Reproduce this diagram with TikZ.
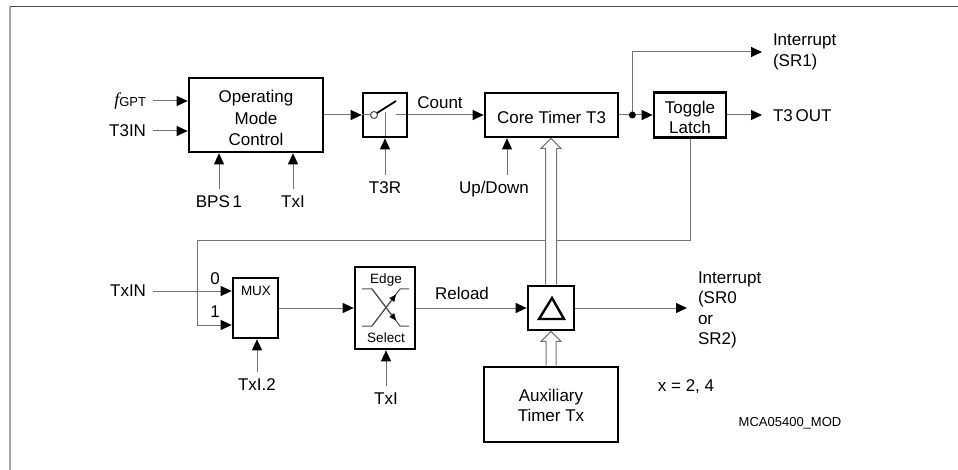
\documentclass[tikz,border=0pt]{standalone}
\usepackage{fontspec}
\setmainfont{Liberation Sans}
\newfontfamily\serifit{Liberation Serif}
\usetikzlibrary{arrows.meta,calc}
\pgfdeclarelayer{bg}
\pgfsetlayers{bg,main}
\begin{document}
\begin{tikzpicture}[x=1pt,y=-1pt,
  font=\fontsize{17}{21.5}\selectfont,
  blk/.style={draw=black, line width=2.7pt, rectangle, inner sep=0pt, align=center},
  btxt/.style={align=center, inner sep=0pt},
  conn/.style={draw=black!55, line width=1pt},
  arr/.style={-{Triangle[length=11pt,width=10pt,color=black]}},
  sarr/.style={-{Triangle[length=7pt,width=6pt,color=black]}},
  lbl/.style={inner sep=1pt, outer sep=6pt},
  rlbl/.style={inner sep=1pt, outer sep=10pt, align=left, font=\fontsize{17}{20.5}\selectfont},
  small/.style={font=\fontsize{13.5}{16}\selectfont, inner sep=0pt},
  hollow/.style={draw=black!55, line width=1pt, fill=white, line join=miter},
]
\useasboundingbox (0,0) rectangle (958,470);
% frame
\draw[black!35, line width=2pt] (10,7) -- (10,470);
\draw[black!70, line width=1pt] (10,7) -- (958,7);

% blocks
\node[blk, minimum width=134pt, minimum height=74pt] (omc) at (256,115) {};
\node[btxt] (omct) at ($(omc.center)+(0,3)$) {Operating\\Mode\\Control};
\node[blk, minimum width=44pt, minimum height=44pt] (sw) at (385,115) {};
\node[blk, minimum width=133pt, minimum height=44pt] (core) at (551.5,115) {};
\node[btxt] (coret) at ($(core.center)+(0,2)$) {Core Timer T3};
\node[blk, minimum width=72pt, minimum height=45pt] (tog) at (690,115) {};
\node[btxt, font=\fontsize{17}{20}\selectfont] (togt) at ($(tog.center)+(0,2)$) {Toggle\\Latch};
\node[blk, minimum width=45pt, minimum height=60pt] (mux) at (255.5,308) {};
\node[small] (muxt) at (256,291) {MUX};
\node[blk, minimum width=60pt, minimum height=82pt] (edge) at (385,308) {};
\node[small] (edt) at (386,280) {Edge};
\node[small] (selt) at (386,338) {Select};
\node[blk, minimum width=46pt, minimum height=44pt] (delta) at (551,308) {};
\node[blk, minimum width=134pt, minimum height=75pt] (aux) at (551,404.5) {};
\node[btxt, font=\fontsize{17}{19.5}\selectfont] (auxt) at ($(aux.center)+(0,1)$) {Auxiliary\\Timer Tx};

% delta triangle
\draw[black, line width=2.4pt, line join=miter] ($(delta.center)+(1,-10)$) -- ($(delta.center)+(-12,11)$) -- ($(delta.center)+(13,11)$) -- cycle;

% labels
\node[lbl, anchor=east] (fg) at (153,101) {{\serifit\itshape\fontsize{18}{20}\selectfont f}\raisebox{-1.5pt}{\fontsize{13}{15}\selectfont GPT}};
\node[lbl, anchor=east] (t3in) at (153,131) {T3IN};
\node[lbl, anchor=north] (bps) at (219,189) {BPS\,1};
\node[lbl, anchor=north] (txa) at (293,189) {TxI};
\node[lbl, anchor=north] (t3r) at (385,175) {T3R};
\coordinate (udc) at (507,175);
\node[lbl, anchor=north] (ud) at (494,174) {Up/Down};
\node (cnt) at (440,103) {Count};
\node[rlbl, anchor=west] (ir1) at (762,52) {Interrupt\\(SR1)};
\node[rlbl, anchor=west] (t3o) at (762,116) {T3\,OUT};
\node[rlbl, anchor=west] (ir0) at (687,310) {Interrupt\\(SR0\\or\\SR2)};
\node[lbl, anchor=east] (txin) at (153,291) {TxIN};
\node (l0) at (215,279) {0};
\node (l1) at (215,312) {1};
\node[lbl, anchor=north] (txi2) at (257,372) {TxI.2};
\node[lbl, anchor=north] (txb) at (386,386) {TxI};
\node (rel) at (462,293) {Reload};
\node (xeq) at (686,387) {x = 2, 4};
\node[font=\fontsize{13}{15}\selectfont] (mca) at (790,423) {MCA05400\_MOD};

\coordinate (fbl) at (197,241);
\coordinate (mux1) at ($(mux.west)+(0,17)$);
\coordinate (dotc) at ($(core.east)!0.39!(tog.west)$);

\begin{pgfonlayer}{bg}
% inputs to OMC
\draw[conn,arr] (fg.east) -- (fg.east -| omc.west);
\draw[conn,arr] (t3in.east) -- (t3in.east -| omc.west);
\draw[conn,arr] (bps.north) -- (bps.north |- omc.south);
\draw[conn,arr] (txa.north) -- (txa.north |- omc.south);
% OMC -> switch
\draw[conn,arr] (omc.east) -- (sw.west);
\draw[conn,arr] (t3r.north) -- (sw.south);
\draw[conn] (sw.south) -- ($(sw.center)+(0,-3)$);
\draw[conn,arr] ($(sw.center)+(11,0)$) -- (core.west);
\draw[conn,arr] (udc) -- (udc |- core.south);
% core -> toggle
\draw[conn,arr] (core.east) -- (tog.west);
\draw[conn,arr] (dotc) |- (ir1.west);
\draw[conn,arr] (tog.east) -- (tog.east -| t3o.west);
% feedback
\draw[conn,arr] (tog.south) -- (tog.south |- fbl) -- (fbl) -- (fbl |- mux1) -- (mux1);
\draw[conn,arr] (txin.east) -- (txin.east -| mux.west);
\draw[conn,arr] (mux.east) -- (edge.west);
\draw[conn,arr] (txi2.north) -- (txi2.north |- mux.south);
\draw[conn,arr] (txb.north) -- (txb.north |- edge.south);
\draw[conn,arr] (edge.east) -- (delta.west);
\draw[conn,arr] (delta.east) -- (delta.east -| ir0.west);
% hollow arrows
\draw[hollow] ($(delta.north)+(-5.5,0)$) -- ($(delta.north |- core.south)+(-5.5,10)$) -- ++(-4.5,0)
  -- (delta.north |- core.south) -- ($(delta.north |- core.south)+(10,10)$) -- ++(-4.5,0) -- ($(delta.north)+(5.5,0)$);
\draw[hollow] ($(aux.north)+(-5,0)$) -- ($(delta.south)+(-5,10)$) -- ++(-5,0)
  -- (delta.south) -- ($(delta.south)+(10,10)$) -- ++(-5,0) -- ($(aux.north)+(5,0)$);
\end{pgfonlayer}

% switch internals
\draw[conn] (sw.west) -- ($(sw.center)+(-7.5,0)$);
\draw[black!70, line width=1pt, fill=white] ($(sw.center)+(-11,0)$) circle (3.5);
\draw[black, line width=1.8pt] ($(sw.center)+(-8,-2)$) -- ($(sw.center)+(11,-14)$);
\fill[black] (dotc) circle (3.5);

% edge select internals
\draw[black!70, line width=1pt] (362,289) -- (372,289) -- (400,326) -- (409,326);
\draw[black!70, line width=1pt] (362,326) -- (372,326) -- (400,289) -- (409,289);
\draw[black!70, line width=1pt, sarr] (372,326) -- (396,294.5);
\draw[black!70, line width=1pt, sarr] (372,289) -- (396,320.5);
\end{tikzpicture}
\end{document}
